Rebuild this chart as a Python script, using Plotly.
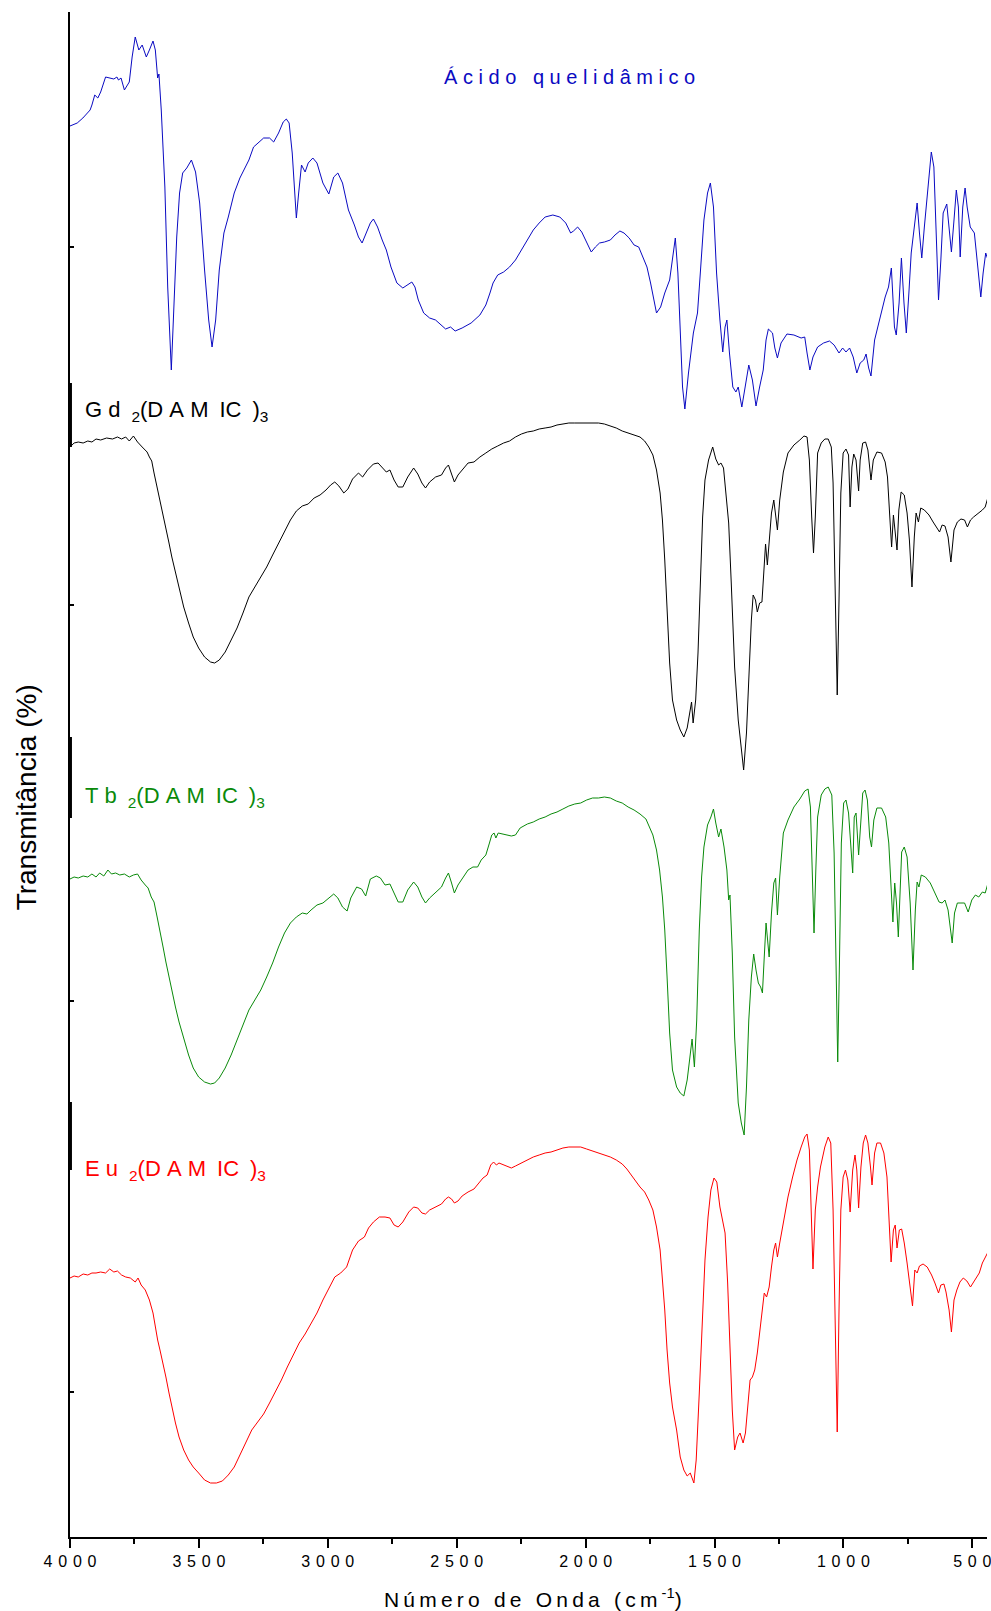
import plotly.graph_objects as go

# FT-IR spectra (transmittance, arbitrary stacked units) vs wavenumber (cm-1)

wavenumber_acido = [4000, 3972, 3950, 3931, 3922, 3915, 3904, 3892, 3881, 3862, 3846, 3830, 3818, 3812, 3802, 3789,
                    3770, 3759, 3747, 3733, 3720, 3704, 3692, 3678, 3669, 3660, 3655, 3646, 3632, 3621, 3607, 3596,
                    3586, 3575, 3563, 3547, 3529, 3513, 3497, 3478, 3462, 3449, 3435, 3421, 3403, 3386, 3363, 3341,
                    3318, 3306, 3288, 3272, 3249, 3226, 3210, 3191, 3173, 3161, 3150, 3138, 3129, 3122, 3113, 3102,
                    3088, 3076, 3058, 3042, 3019, 2996, 2977, 2961, 2943, 2920, 2897, 2881, 2867, 2851, 2835, 2823,
                    2807, 2789, 2773, 2755, 2732, 2709, 2690, 2674, 2662, 2649, 2628, 2605, 2582, 2559, 2543, 2524,
                    2506, 2479, 2444, 2410, 2387, 2371, 2359, 2341, 2318, 2295, 2272, 2249, 2226, 2203, 2180, 2157,
                    2127, 2100, 2077, 2058, 2047, 2031, 2015, 1996, 1978, 1962, 1946, 1927, 1904, 1886, 1867, 1851,
                    1831, 1812, 1794, 1778, 1762, 1748, 1736, 1725, 1709, 1693, 1674, 1661, 1652, 1642, 1633, 1624,
                    1615, 1601, 1582, 1566, 1555, 1541, 1527, 1516, 1504, 1492, 1479, 1468, 1459, 1452, 1442, 1429,
                    1417, 1408, 1394, 1380, 1367, 1353, 1339, 1325, 1311, 1300, 1291, 1275, 1266, 1256, 1242, 1219,
                    1192, 1164, 1150, 1141, 1130, 1118, 1100, 1077, 1054, 1036, 1017, 1003, 990, 976, 962, 948,
                    935, 921, 912, 902, 893, 879, 867, 852, 838, 825, 814, 802, 795, 784, 775, 765,
                    756, 746, 737, 725, 714, 705, 696, 686, 672, 659, 649, 640, 631, 622, 613, 599,
                    590, 581, 571, 562, 554, 547, 537, 528, 520, 508, 492, 481, 467, 458, 448, 439]
transm_acido = [141.1, 141.4, 141.9, 142.4, 142.7, 143.2, 144.2, 143.9, 144.5, 146.0, 145.9, 145.8, 146.0, 145.7, 145.9, 144.7,
                145.5, 148.0, 150.0, 148.7, 149.2, 148.0, 148.7, 149.6, 148.7, 145.9, 146.3, 142.7, 135.0, 125.0, 116.7, 123.4,
                130.0, 134.4, 136.4, 136.9, 137.7, 136.5, 133.4, 126.7, 121.7, 119.0, 121.7, 126.7, 130.4, 132.0, 134.4, 135.9,
                137.2, 137.7, 139.0, 139.4, 139.9, 139.9, 139.5, 140.4, 141.5, 141.8, 141.4, 138.4, 134.4, 131.9, 134.4, 137.2,
                136.5, 137.4, 137.9, 137.4, 135.4, 134.3, 136.0, 136.4, 135.4, 132.7, 131.2, 130.0, 129.4, 130.4, 131.4, 131.8,
                131.0, 129.7, 128.7, 127.0, 125.4, 124.9, 125.2, 125.5, 125.0, 123.7, 122.4, 121.9, 121.7, 121.2, 120.8, 121.0,
                120.6, 120.9, 121.4, 122.2, 123.2, 124.4, 125.4, 126.2, 126.5, 127.0, 127.7, 128.7, 129.7, 130.7, 131.4, 132.0,
                132.2, 132.0, 131.4, 130.4, 130.6, 131.0, 130.5, 129.4, 128.5, 129.0, 129.4, 129.5, 129.7, 130.2, 130.6, 130.4,
                129.9, 129.2, 129.0, 128.0, 127.0, 125.4, 123.7, 122.4, 123.0, 124.4, 125.7, 128.0, 129.9, 126.4, 120.0, 115.0,
                112.8, 116.4, 120.4, 122.4, 126.4, 131.7, 134.4, 135.4, 133.0, 126.4, 121.7, 118.5, 121.0, 121.7, 118.4, 115.0,
                114.5, 115.0, 113.0, 115.0, 117.2, 115.7, 113.1, 115.0, 116.7, 119.7, 120.8, 120.4, 118.9, 117.9, 119.4, 120.3,
                120.2, 119.9, 120.0, 118.4, 116.7, 118.0, 119.0, 119.4, 119.6, 119.2, 118.4, 118.9, 118.5, 118.9, 118.0, 116.4,
                117.4, 117.7, 118.3, 116.9, 116.1, 119.7, 121.0, 122.4, 124.0, 125.0, 126.9, 121.0, 120.2, 123.4, 127.9, 123.4,
                120.4, 124.4, 128.4, 131.0, 133.4, 130.4, 127.9, 131.0, 135.0, 138.5, 137.0, 131.0, 123.7, 127.7, 132.4, 133.3,
                131.0, 128.5, 131.7, 134.7, 133.0, 128.0, 133.0, 134.9, 133.0, 131.0, 130.4, 127.7, 124.0, 126.4, 128.4, 127.7]

wavenumber_gd = [4000, 3984, 3968, 3949, 3931, 3915, 3899, 3881, 3858, 3835, 3816, 3800, 3784, 3770, 3754, 3738,
                 3720, 3701, 3692, 3683, 3674, 3662, 3651, 3639, 3628, 3616, 3605, 3591, 3577, 3559, 3540, 3522,
                 3501, 3478, 3455, 3439, 3421, 3398, 3375, 3352, 3329, 3306, 3283, 3260, 3237, 3214, 3191, 3168,
                 3145, 3122, 3099, 3076, 3053, 3030, 3007, 2989, 2973, 2957, 2938, 2922, 2904, 2881, 2865, 2846,
                 2823, 2805, 2789, 2773, 2759, 2743, 2727, 2709, 2690, 2667, 2651, 2635, 2621, 2605, 2582, 2559,
                 2543, 2532, 2520, 2509, 2495, 2474, 2456, 2433, 2410, 2387, 2364, 2341, 2318, 2295, 2272, 2249,
                 2226, 2203, 2180, 2157, 2134, 2111, 2088, 2065, 2042, 2019, 1996, 1973, 1950, 1927, 1904, 1881,
                 1858, 1835, 1812, 1789, 1771, 1755, 1739, 1725, 1711, 1702, 1693, 1684, 1674, 1663, 1647, 1633,
                 1619, 1606, 1596, 1589, 1583, 1573, 1564, 1555, 1546, 1537, 1523, 1507, 1495, 1484, 1475, 1465,
                 1456, 1445, 1435, 1422, 1408, 1396, 1387, 1376, 1367, 1357, 1350, 1341, 1334, 1325, 1316, 1309,
                 1302, 1295, 1288, 1279, 1270, 1263, 1256, 1247, 1233, 1215, 1192, 1169, 1153, 1141, 1132, 1123,
                 1116, 1109, 1100, 1086, 1072, 1059, 1047, 1040, 1033, 1024, 1017, 1010, 1001, 990, 980, 974,
                 967, 960, 951, 941, 935, 925, 914, 905, 893, 884, 870, 852, 838, 829, 820, 813,
                 806, 799, 792, 785, 776, 764, 753, 744, 734, 725, 718, 709, 700, 686, 668, 652,
                 638, 627, 617, 606, 594, 583, 571, 558, 544, 530, 519, 507, 495, 484, 473, 461, 450, 439]
transm_gd = [109.0, 109.4, 109.5, 109.4, 109.6, 109.5, 109.8, 109.7, 109.9, 109.8, 110.0, 109.8, 110.0, 109.6, 110.1, 109.5,
             109.0, 108.5, 108.0, 107.6, 106.4, 105.0, 103.7, 102.2, 100.7, 99.4, 98.0, 96.4, 94.9, 93.0, 91.4, 90.0,
             88.9, 88.0, 87.5, 87.4, 87.7, 88.5, 89.7, 90.9, 92.4, 94.0, 95.0, 96.0, 97.0, 98.2, 99.4, 100.5,
             101.7, 102.6, 103.1, 103.3, 103.9, 104.2, 104.7, 105.2, 105.5, 105.1, 104.4, 104.8, 105.8, 106.4, 106.0, 106.7,
             107.3, 107.4, 107.0, 106.5, 106.7, 105.7, 105.0, 105.0, 106.0, 106.9, 106.3, 105.4, 104.9, 105.5, 106.0, 106.2,
             106.9, 107.2, 106.3, 105.5, 106.2, 106.9, 107.4, 107.5, 108.0, 108.4, 108.8, 109.1, 109.4, 109.6, 110.0, 110.3,
             110.5, 110.6, 110.8, 110.9, 111.0, 111.2, 111.3, 111.4, 111.4, 111.4, 111.4, 111.4, 111.4, 111.3, 111.1, 110.9,
             110.6, 110.4, 110.2, 110.0, 109.6, 109.0, 108.2, 106.7, 104.4, 101.7, 97.7, 92.4, 87.4, 83.7, 81.7, 80.7,
             80.0, 80.9, 82.7, 83.5, 81.4, 83.7, 88.4, 95.0, 102.0, 105.7, 107.7, 109.0, 107.8, 107.2, 107.4, 106.9,
             104.7, 101.4, 95.4, 87.0, 81.7, 78.7, 76.7, 80.4, 86.4, 91.7, 94.2, 93.7, 92.5, 93.4, 93.5, 97.0,
             99.3, 97.2, 99.7, 102.4, 103.7, 102.0, 100.7, 103.7, 106.5, 108.4, 109.2, 109.7, 110.1, 110.0, 107.7, 102.0,
             98.4, 102.0, 108.4, 109.4, 109.8, 109.8, 109.0, 105.4, 97.0, 84.2, 93.7, 104.4, 108.4, 108.8, 108.2, 103.0,
             107.0, 108.3, 107.7, 104.6, 107.7, 109.4, 109.5, 108.7, 105.7, 107.7, 108.5, 108.4, 107.5, 106.0, 102.0, 99.0,
             102.2, 100.4, 98.7, 102.7, 104.5, 104.2, 102.4, 99.7, 95.0, 100.0, 102.4, 101.5, 102.9, 102.7, 102.2, 101.5,
             100.9, 100.5, 101.2, 101.1, 100.0, 97.5, 100.7, 101.5, 101.8, 101.7, 101.0, 101.7, 102.0, 102.2, 102.4, 102.7, 103.0, 104.0]

wavenumber_tb = [4000, 3984, 3968, 3949, 3931, 3915, 3899, 3885, 3869, 3853, 3839, 3823, 3807, 3789, 3770, 3754,
                 3738, 3724, 3708, 3697, 3685, 3674, 3662, 3651, 3639, 3628, 3616, 3605, 3591, 3577, 3559, 3540,
                 3522, 3501, 3478, 3455, 3439, 3421, 3398, 3375, 3352, 3329, 3306, 3283, 3260, 3237, 3214, 3191,
                 3168, 3145, 3122, 3099, 3081, 3065, 3042, 3019, 2996, 2977, 2961, 2943, 2925, 2911, 2888, 2869,
                 2853, 2835, 2812, 2796, 2778, 2759, 2743, 2727, 2709, 2690, 2667, 2651, 2635, 2621, 2605, 2582,
                 2559, 2543, 2532, 2520, 2509, 2495, 2474, 2456, 2437, 2419, 2405, 2387, 2373, 2364, 2355, 2348,
                 2339, 2323, 2306, 2288, 2272, 2254, 2226, 2203, 2180, 2157, 2134, 2111, 2088, 2065, 2042, 2019,
                 1996, 1973, 1950, 1927, 1904, 1881, 1858, 1835, 1812, 1789, 1766, 1753, 1739, 1725, 1713, 1702,
                 1693, 1684, 1674, 1663, 1647, 1633, 1619, 1606, 1594, 1587, 1578, 1569, 1559, 1550, 1541, 1527,
                 1514, 1504, 1495, 1484, 1475, 1463, 1452, 1445, 1440, 1431, 1422, 1408, 1396, 1385, 1376, 1367,
                 1357, 1348, 1339, 1330, 1321, 1314, 1307, 1300, 1293, 1288, 1279, 1270, 1263, 1256, 1247, 1233,
                 1215, 1192, 1169, 1150, 1137, 1128, 1121, 1114, 1107, 1100, 1086, 1072, 1059, 1045, 1036, 1029,
                 1022, 1015, 1008, 999, 990, 980, 971, 964, 958, 951, 941, 935, 925, 916, 907, 898,
                 891, 882, 870, 852, 836, 824, 815, 808, 801, 794, 787, 781, 774, 764, 753, 741,
                 730, 721, 714, 707, 698, 682, 663, 645, 629, 617, 606, 594, 585, 578, 569, 558,
                 544, 530, 516, 502, 488, 475, 461, 450, 439]
transm_tb = [65.8, 66.0, 65.9, 66.1, 66.0, 66.3, 66.0, 66.4, 66.1, 66.7, 66.3, 66.4, 66.2, 66.3, 66.0, 66.2,
             66.3, 65.7, 65.2, 64.9, 64.0, 63.5, 62.0, 60.7, 59.0, 57.5, 56.0, 54.5, 53.0, 51.5, 49.9, 48.2,
             46.9, 46.0, 45.5, 45.3, 45.4, 45.9, 46.9, 48.2, 49.7, 51.2, 52.7, 53.7, 54.7, 56.0, 57.4, 59.0,
             60.4, 61.4, 62.0, 62.4, 62.3, 62.7, 63.2, 63.4, 63.9, 64.3, 63.9, 63.0, 62.6, 63.9, 65.0, 64.8,
             64.1, 65.8, 66.1, 65.9, 65.2, 65.3, 64.4, 63.5, 63.5, 64.7, 65.5, 65.0, 64.0, 63.4, 63.9, 64.5,
             65.0, 65.9, 66.4, 65.4, 64.4, 65.2, 66.0, 66.7, 67.0, 67.0, 67.7, 68.2, 69.4, 70.2, 70.4, 69.9,
             70.4, 70.3, 70.2, 70.1, 70.2, 70.9, 71.3, 71.5, 71.8, 72.0, 72.3, 72.5, 72.8, 73.1, 73.3, 73.4,
             73.7, 73.9, 73.9, 74.0, 73.9, 73.6, 73.4, 73.0, 72.7, 72.3, 71.8, 71.0, 70.2, 68.7, 66.7, 64.0,
             60.7, 56.0, 50.4, 46.7, 45.0, 44.4, 44.1, 45.7, 48.7, 49.8, 47.0, 51.7, 60.7, 66.0, 69.0, 71.2,
             72.0, 72.8, 71.4, 70.0, 70.8, 69.0, 66.7, 63.7, 64.2, 58.4, 50.0, 43.4, 41.4, 40.2, 45.0, 51.7,
             56.0, 58.3, 56.7, 55.4, 55.0, 54.4, 58.0, 61.4, 59.4, 58.0, 62.4, 65.4, 65.9, 62.2, 66.0, 70.4,
             71.7, 73.0, 73.8, 74.6, 74.8, 73.0, 66.7, 60.4, 66.7, 72.0, 74.2, 74.8, 75.0, 74.2, 68.4, 56.7,
             47.5, 58.0, 69.4, 73.4, 73.7, 72.4, 68.4, 66.4, 72.0, 72.4, 68.2, 71.0, 74.4, 74.7, 73.7, 70.0,
             69.0, 71.7, 72.9, 72.9, 72.0, 69.4, 65.0, 61.5, 65.4, 63.4, 60.0, 64.4, 68.5, 69.0, 68.0, 63.4,
             56.7, 62.7, 65.5, 65.0, 66.2, 66.0, 65.4, 64.4, 63.5, 63.4, 63.7, 62.7, 61.0, 59.4, 62.4, 63.4,
             63.4, 63.4, 62.5, 63.7, 64.2, 64.0, 64.5, 64.4, 65.4]

wavenumber_eu = [4000, 3984, 3968, 3949, 3931, 3915, 3899, 3881, 3862, 3846, 3830, 3816, 3800, 3784, 3766, 3747,
                 3736, 3724, 3708, 3692, 3678, 3669, 3660, 3651, 3639, 3628, 3616, 3605, 3591, 3577, 3559, 3540,
                 3522, 3501, 3478, 3455, 3432, 3409, 3386, 3363, 3341, 3318, 3295, 3272, 3249, 3226, 3203, 3180,
                 3157, 3134, 3111, 3088, 3065, 3042, 3019, 2996, 2973, 2950, 2927, 2904, 2881, 2858, 2842, 2823,
                 2800, 2778, 2759, 2743, 2727, 2709, 2686, 2667, 2651, 2635, 2621, 2605, 2582, 2559, 2543, 2532,
                 2520, 2509, 2495, 2479, 2456, 2433, 2414, 2398, 2382, 2368, 2357, 2346, 2336, 2318, 2302, 2288,
                 2272, 2249, 2226, 2203, 2180, 2157, 2134, 2111, 2088, 2065, 2042, 2019, 1996, 1973, 1950, 1927,
                 1904, 1881, 1858, 1840, 1824, 1808, 1789, 1771, 1755, 1739, 1725, 1711, 1702, 1693, 1684, 1674,
                 1663, 1647, 1633, 1619, 1606, 1594, 1580, 1571, 1559, 1548, 1537, 1525, 1514, 1502, 1491, 1479,
                 1468, 1459, 1449, 1440, 1431, 1422, 1410, 1401, 1389, 1380, 1371, 1362, 1353, 1344, 1334, 1325,
                 1316, 1307, 1298, 1288, 1279, 1270, 1263, 1256, 1247, 1233, 1215, 1197, 1180, 1164, 1150, 1141,
                 1132, 1125, 1118, 1109, 1100, 1089, 1072, 1059, 1049, 1040, 1031, 1024, 1017, 1010, 1001, 992,
                 983, 974, 964, 955, 948, 941, 932, 923, 914, 905, 895, 889, 879, 870, 856, 843,
                 831, 822, 815, 806, 799, 792, 783, 774, 764, 753, 741, 732, 723, 714, 705, 691,
                 675, 658, 645, 631, 622, 610, 602, 590, 581, 571, 560, 548, 535, 521, 507, 495,
                 484, 473, 461, 450, 439]
transm_eu = [25.9, 26.1, 26.0, 26.3, 26.2, 26.4, 26.4, 26.5, 26.4, 26.8, 26.5, 26.6, 26.2, 26.0, 25.9, 25.5,
             25.9, 25.2, 24.7, 23.7, 22.4, 21.0, 19.7, 18.7, 17.4, 16.0, 14.4, 13.0, 11.4, 10.0, 8.7, 7.7,
             7.0, 6.4, 5.7, 5.4, 5.4, 5.6, 6.2, 7.0, 8.2, 9.5, 10.7, 11.5, 12.3, 13.4, 14.5, 15.7,
             17.0, 18.2, 19.4, 20.3, 21.3, 22.4, 23.7, 24.9, 26.0, 26.4, 27.0, 28.7, 29.6, 30.0, 30.9, 31.5,
             32.0, 32.0, 31.9, 31.2, 31.0, 31.5, 32.5, 33.0, 32.9, 32.4, 32.3, 32.7, 33.0, 33.3, 33.8, 34.0,
             33.8, 33.4, 33.6, 34.1, 34.5, 34.8, 35.4, 35.9, 36.2, 37.2, 37.5, 37.2, 37.4, 37.2, 37.0, 36.9,
             37.1, 37.4, 37.7, 38.0, 38.2, 38.4, 38.5, 38.7, 38.9, 39.0, 39.0, 39.0, 38.8, 38.6, 38.4, 38.2,
             38.0, 37.7, 37.3, 36.8, 36.2, 35.6, 35.0, 34.5, 33.7, 32.7, 31.0, 28.7, 26.0, 22.7, 18.7, 15.4,
             13.0, 10.7, 8.0, 6.7, 6.1, 6.4, 5.4, 7.7, 14.4, 21.0, 27.7, 32.0, 34.7, 35.9, 35.5, 33.0,
             31.4, 30.4, 25.4, 18.7, 12.7, 8.7, 10.0, 10.4, 9.4, 10.4, 13.4, 15.7, 16.0, 16.7, 18.4, 20.4,
             22.4, 24.4, 24.0, 25.0, 27.0, 28.7, 29.4, 28.0, 29.4, 31.4, 34.0, 36.0, 37.7, 39.0, 40.0, 40.3,
             38.7, 32.7, 26.8, 32.7, 35.0, 37.0, 39.0, 40.0, 39.4, 32.7, 19.4, 10.5, 22.7, 32.7, 36.0, 36.7,
             35.7, 32.5, 36.7, 38.2, 36.7, 32.9, 37.0, 39.4, 40.2, 39.4, 37.0, 35.2, 38.4, 39.4, 39.4, 38.4,
             36.0, 31.0, 27.5, 30.7, 31.2, 28.9, 30.7, 30.8, 29.4, 27.4, 25.0, 23.1, 26.7, 26.4, 27.1, 27.3,
             27.0, 26.2, 25.4, 24.4, 25.2, 25.3, 24.5, 22.7, 20.5, 23.7, 24.7, 25.5, 25.9, 25.6, 25.0, 25.5,
             25.9, 26.4, 27.4, 27.9, 28.5]

tick_values = [4000, 3500, 3000, 2500, 2000, 1500, 1000, 500]

FONT = "Arial, Liberation Sans, sans-serif"
BLUE = "#0A0AC2"
GREEN = "#0A8A0A"
RED = "#FF0000"

GAP = "\u2008"          # letter gap used in the labels
WIDE = "\u2002"         # wider gap


def spaced(text, gap=GAP):
    return gap.join(text)


def complex_label(metal):
    return (spaced(metal) + WIDE + "<sub>2</sub>" + "(" + spaced("DAM") + WIDE + "IC"
            + WIDE + ")" + "<sub>3</sub>")


fig = go.Figure()
for wn, tr, color in [(wavenumber_acido, transm_acido, BLUE),
                      (wavenumber_gd, transm_gd, "#000000"),
                      (wavenumber_tb, transm_tb, GREEN),
                      (wavenumber_eu, transm_eu, RED)]:
    fig.add_trace(go.Scatter(x=wn, y=tr, mode="lines",
                             line=dict(color=color, width=1), showlegend=False,
                             hoverinfo="skip"))

labels = [
    (spaced("Ácido quelidâmico"), 0.406, 146.0, BLUE, 20),
    (complex_label("Gd"), 0.014, 112.6, "#000000", 22),
    (complex_label("Tb"), 0.014, 74.0, GREEN, 22),
    (complex_label("Eu"), 0.014, 36.7, RED, 22),
]
annotations = []
for text, xp, yv, color, size in labels:
    annotations.append(dict(text=text, xref="paper", yref="y", x=xp, y=yv,
                            xanchor="left", yanchor="middle", showarrow=False,
                            font=dict(family=FONT, size=size, color=color)))

annotations.append(dict(text=spaced("Número de Onda (cm", "\u2009") + "\u2009<sup>-1</sup>)",
                        xref="paper", yref="paper", x=0.505, y=-0.040,
                        xanchor="center", yanchor="middle", showarrow=False,
                        font=dict(family=FONT, size=21, color="#000000")))
annotations.append(dict(text="Transmitância (%)", xref="paper", yref="paper",
                        x=-0.048, y=0.485, xanchor="center", yanchor="middle",
                        textangle=-90, showarrow=False,
                        font=dict(family=FONT, size=28, color="#000000")))

# slightly heavier stretches of the left axis line beside each sample label
heavy_axis = [(109.0, 115.4), (71.9, 80.0), (36.7, 43.5)]
shapes = [dict(type="line", xref="paper", yref="y", x0=0.0005, x1=0.0005, y0=lo, y1=hi,
               line=dict(color="black", width=3)) for lo, hi in heavy_axis]

fig.update_layout(
    width=991, height=1611, autosize=False,
    margin=dict(l=70, r=0, t=12, b=74),
    paper_bgcolor="white", plot_bgcolor="white",
    annotations=annotations, shapes=shapes,
    xaxis=dict(range=[4000, 443], showgrid=False, zeroline=False,
               showline=True, linecolor="black", linewidth=2,
               ticks="outside", ticklen=9, tickwidth=2, tickcolor="black",
               tickvals=tick_values,
               ticktext=["\u2008\u200a".join(str(v)) for v in tick_values],
               tickfont=dict(family=FONT, size=16, color="black"),
               ticklabeloverflow="allow",
               minor=dict(dtick=250, ticks="outside", ticklen=5, tickwidth=2,
                          tickcolor="black")),
    yaxis=dict(range=[0, 152.5], showgrid=False, zeroline=False,
               showline=True, linecolor="black", linewidth=2,
               ticks="inside", ticklen=4, tickwidth=1.5, tickcolor="black",
               tickvals=[14.5, 53.6, 93.2, 129.0], showticklabels=False),
)

fig.write_html("out.html")
